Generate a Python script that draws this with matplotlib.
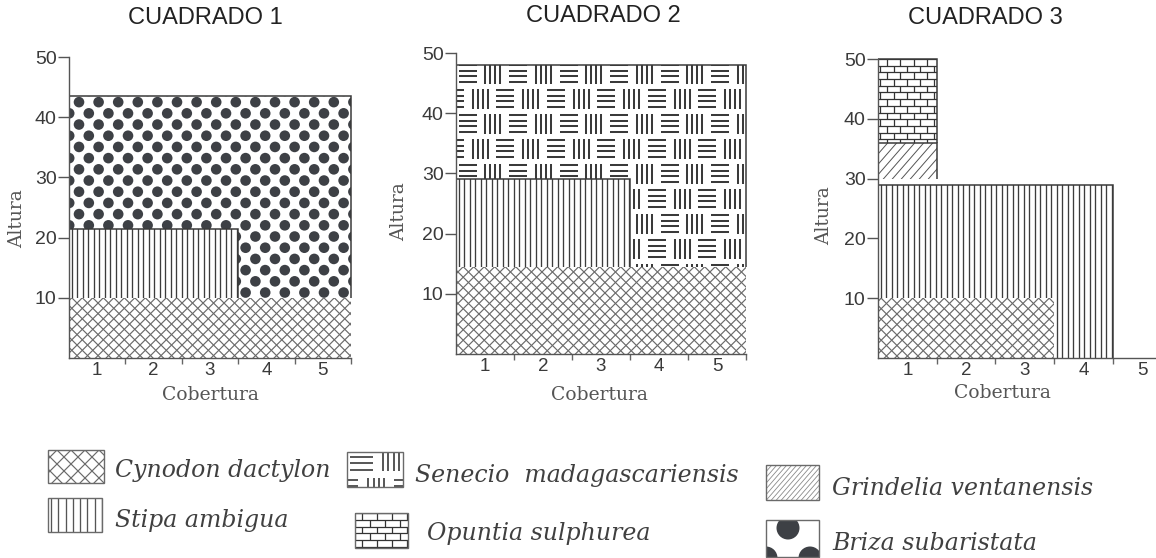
import numpy as np
import matplotlib
matplotlib.use("Agg")
import matplotlib.pyplot as plt
from matplotlib.collections import LineCollection, PatchCollection
from matplotlib.patches import Rectangle, Circle
from matplotlib.transforms import IdentityTransform

plt.rcParams["font.family"] = ["Liberation Sans", "DejaVu Sans"]

W, H = 1156, 558

# ---------------- data ----------------
titles = ["CUADRADO 1", "CUADRADO 2", "CUADRADO 3"]
x_label = "Cobertura"
y_label = "Altura"
cobertura_ticks = [1, 2, 3, 4, 5]
altura_ticks = [10, 20, 30, 40, 50]

species = ["Cynodon dactylon", "Stipa ambigua", "Senecio  madagascariensis",
           "Opuntia sulphurea", "Grindelia ventanensis", "Briza subaristata"]

# each panel: layers drawn in order (later layers cover earlier ones)
c1_species = ["Briza subaristata", "Stipa ambigua", "Cynodon dactylon"]
c1_cov_from = [0.5, 0.5, 0.5]
c1_cov_to = [5.5, 3.5, 5.5]
c1_alt_from = [10, 10, 0]
c1_alt_to = [43.5, 21.5, 10]

c2_species = ["Senecio  madagascariensis", "Stipa ambigua", "Cynodon dactylon"]
c2_cov_from = [0.5, 0.5, 0.5]
c2_cov_to = [5.5, 3.5, 5.5]
c2_alt_from = [14.5, 14.5, 0]
c2_alt_to = [48, 29, 14.5]

c3_species = ["Opuntia sulphurea", "Grindelia ventanensis", "Stipa ambigua", "Cynodon dactylon"]
c3_cov_from = [0.5, 0.5, 0.5, 0.5]
c3_cov_to = [1.5, 1.5, 4.5, 3.5]
c3_alt_from = [36, 30, 0, 0]
c3_alt_to = [50, 36, 29, 10]

# ---------------- styles ----------------
STYLE = {
    "Cynodon dactylon": ("cross", dict(s=10.5, lw=0.85, color="#6a6a6a")),
    "Stipa ambigua": ("vlines", dict(s=5.5, ox=2.5, lw=0.95, color="#3c3c3c")),
    "Senecio  madagascariensis": ("weave", dict(cw=25.25, ch=25.0, ox=11.5, oy=8.5, hw=18, hh=17,
                                                vw=15, vh=20, lw=1.45, color="#3a3a3a")),
    "Opuntia sulphurea": ("brick", dict(bw=13.3, bh=6.7, ox=9.0, lw=0.9, color="#333333")),
    "Grindelia ventanensis": ("diag", dict(s=9.0, k=1.15, lw=0.7, color="#555555")),
    "Briza subaristata": ("dots", dict(dx=19.6, dy=11.2, ox=10.0, oy=6.0, r=5.3, color="#3d4045")),
}
LEGEND_OVR = {
    "Cynodon dactylon": dict(s=14.0),
    "Stipa ambigua": dict(s=7.3, ox=3.0, color="#555555"),
    "Senecio  madagascariensis": dict(cw=29.5, ch=29.0, ox=14.5, oy=8.0, hw=23, hh=19, vw=16, vh=22,
                                      lw=1.2),
    "Opuntia sulphurea": dict(bw=15.0, bh=6.8, ox=7.0),
    "Grindelia ventanensis": dict(s=5.0, lw=0.6, color="#8a8a8a"),
    "Briza subaristata": dict(dx=44.0, dy=30.0, ox=22.0, oy=8.0, r=11.5),
}
OUTLINED = {"Stipa ambigua", "Senecio  madagascariensis", "Opuntia sulphurea",
            "Grindelia ventanensis", "Briza subaristata"}
INK = "#3a3a3a"


def pattern_artists(kind, bb, p):
    x0, y0, x1, y1 = bb.x0, bb.y0, bb.x1, bb.y1
    w, h = x1 - x0, y1 - y0
    segs = []
    if kind == "cross":
        s = p["s"]
        L = h + 2 * s
        for d in np.arange(-L, w + L, s):
            segs.append([(x0 + d, y1 + s), (x0 + d + L, y1 + s - L)])
            segs.append([(x0 + d, y1 + s), (x0 + d - L, y1 + s - L)])
    elif kind == "vlines":
        for x in np.arange(x0 + p["ox"], x1 + p["s"], p["s"]):
            segs.append([(x, y0 - 1), (x, y1 + 1)])
    elif kind == "diag":
        s, k = p["s"], p["k"]
        for d in np.arange(-h / k - s, w + s, s):
            segs.append([(x0 + d, y0 - 1), (x0 + d + (h + 2) / k, y1 + 1)])
    elif kind == "brick":
        bw, bh = p["bw"], p["bh"]
        for j in range(int(h / bh) + 2):
            yt = y1 - j * bh
            yb = yt - bh
            segs.append([(x0 - 1, yt), (x1 + 1, yt)])
            off = (p["ox"] + (j % 2) * bw / 2) % bw
            for x in np.arange(x0 + off - bw, x1 + bw, bw):
                segs.append([(x, yt), (x, yb)])
    elif kind == "weave":
        cw, ch = p["cw"], p["ch"]
        for j in range(-1, int(h / ch) + 3):
            cy = y1 - p["oy"] - j * ch
            shift = -(j % 2) * cw / 2
            for i in range(-2, int(w / cw) + 3):
                cx = x0 + p["ox"] + shift + i * cw
                if i % 2 == 0:
                    for m in range(4):
                        yy = cy + (m - 1.5) * p["hh"] / 3
                        segs.append([(cx - p["hw"] / 2, yy), (cx + p["hw"] / 2, yy)])
                else:
                    for m in range(4):
                        xx = cx + (m - 1.5) * p["vw"] / 3
                        segs.append([(xx, cy - p["vh"] / 2), (xx, cy + p["vh"] / 2)])
    elif kind == "dots":
        dx, dy = p["dx"], p["dy"]
        circles = []
        for j in range(-1, int(h / dy) + 3):
            cy = y1 - p["oy"] - j * dy
            off = p["ox"] + (j % 2) * dx / 2
            for cx in np.arange(x0 + off - 2 * dx, x1 + dx, dx):
                circles.append(Circle((cx, cy), p["r"]))
        return PatchCollection(circles, facecolor=p["color"], edgecolor="none",
                               transform=IdentityTransform())
    return LineCollection(segs, colors=p["color"], linewidths=p["lw"],
                          transform=IdentityTransform())


def fill_region(ax, patch, name, z, override=None):
    kind, params = STYLE[name]
    params = dict(params)
    if override:
        params.update(override)
    bb = patch.get_window_extent()
    art = pattern_artists(kind, bb, params)
    art.set_zorder(z)
    ax.add_artist(art)
    art.set_clip_path(patch)


fig = plt.figure(figsize=(W / 100, H / 100), dpi=100)
fig.patch.set_facecolor("white")

# ---------------- legend (pixel-coordinate overlay) ----------------
lax = fig.add_axes([0, 0, 1, 1], zorder=-1)
lax.set_xlim(0, W)
lax.set_ylim(H, 0)
lax.axis("off")
legend_boxes = [(48, 450, 104, 483), (48, 498, 102, 532), (347, 452, 403, 487),
                (355, 513, 408, 548), (766, 465, 819, 500), (766, 520, 819, 557)]
legend_text = [(115, 477), (115, 527), (415, 482), (427, 540), (832, 495), (832, 550)]
for name, (l, t, r, b), (tx, ty) in zip(species, legend_boxes, legend_text):
    rect = Rectangle((l, t), r - l, b - t, facecolor="white", edgecolor="none", zorder=1)
    lax.add_patch(rect)
    fill_region(lax, rect, name, 2, LEGEND_OVR[name])
    lax.add_patch(Rectangle((l, t), r - l, b - t, fill=False, edgecolor="#6a6a6a",
                            lw=1.0, zorder=3))
    lax.text(tx, ty, name, fontsize=17, style="italic", family=["DejaVu Serif"],
             color="#404040", ha="left", va="baseline")

# ---------------- panels ----------------
panels = [
    (c1_species, c1_cov_from, c1_cov_to, c1_alt_from, c1_alt_to),
    (c2_species, c2_cov_from, c2_cov_to, c2_alt_from, c2_alt_to),
    (c3_species, c3_cov_from, c3_cov_to, c3_alt_from, c3_alt_to),
]
layout = [(69, 351, 57, 358, 5.5), (456, 746, 53, 354, 5.5), (878, 1156, 59, 358, 5.236)]
title_pos = [(205, 18), (603, 16), (985, 18)]
ylabel_pos = [(17, 219), (399, 212), (824, 216)]
xlabel_pos = [(210, 395), (599, 395), (1002, 393)]

for k, (sp, cf, ct, af, at) in enumerate(panels):
    left, right, top, bottom, xmax = layout[k]
    ax = fig.add_axes([left / W, 1 - bottom / H, (right - left) / W, (bottom - top) / H])
    ax.set_xlim(0.5, xmax)
    ax.set_ylim(0, 50)
    ax.patch.set_visible(False)
    for i, name in enumerate(sp):
        z = 3 + 2 * i
        xc = (cf[i] + ct[i]) / 2
        bars = ax.bar(xc, at[i] - af[i], width=ct[i] - cf[i], bottom=af[i],
                      color="white", edgecolor="none", zorder=z)
        fill_region(ax, bars[0], name, z + 0.5)
        if name in OUTLINED:
            # top and right edges of the layer
            ax.plot([cf[i], ct[i], ct[i]], [at[i], at[i], af[i]], color=INK,
                    linewidth=1.1, zorder=z + 0.8, clip_on=False,
                    solid_joinstyle="miter", solid_capstyle="butt")
    for s in ("top", "right"):
        ax.spines[s].set_visible(False)
    for s in ("left", "bottom"):
        ax.spines[s].set_color("#555555")
        ax.spines[s].set_linewidth(1.0)
        ax.spines[s].set_zorder(20)
    ax.set_yticks(altura_ticks)
    ax.set_xticks(cobertura_ticks)
    ax.set_xticks([c + 0.5 for c in cobertura_ticks if c + 0.5 <= xmax], minor=True)
    ax.tick_params(axis="y", length=8, width=1, color="#555555", pad=1,
                   labelsize=14, labelcolor="#3a3a3a")
    ax.tick_params(axis="x", which="major", length=0, pad=3, labelsize=13.5,
                   labelcolor="#3a3a3a")
    ax.tick_params(axis="x", which="minor", length=4, width=1, color="#666666",
                   direction="out")

    tx, ty = title_pos[k]
    fig.text(tx / W, 1 - ty / H, titles[k], ha="center", va="center",
             fontsize=17, color="#222222")
    lx, ly = ylabel_pos[k]
    fig.text(lx / W, 1 - ly / H, y_label, ha="center", va="center", rotation=90,
             fontsize=13.5, family=["DejaVu Serif"], color="#555555")
    bx, by = xlabel_pos[k]
    fig.text(bx / W, 1 - by / H, x_label, ha="center", va="center",
             fontsize=13.5, family=["DejaVu Serif"], color="#555555")

fig.savefig("out.png", dpi=100, facecolor="white")
